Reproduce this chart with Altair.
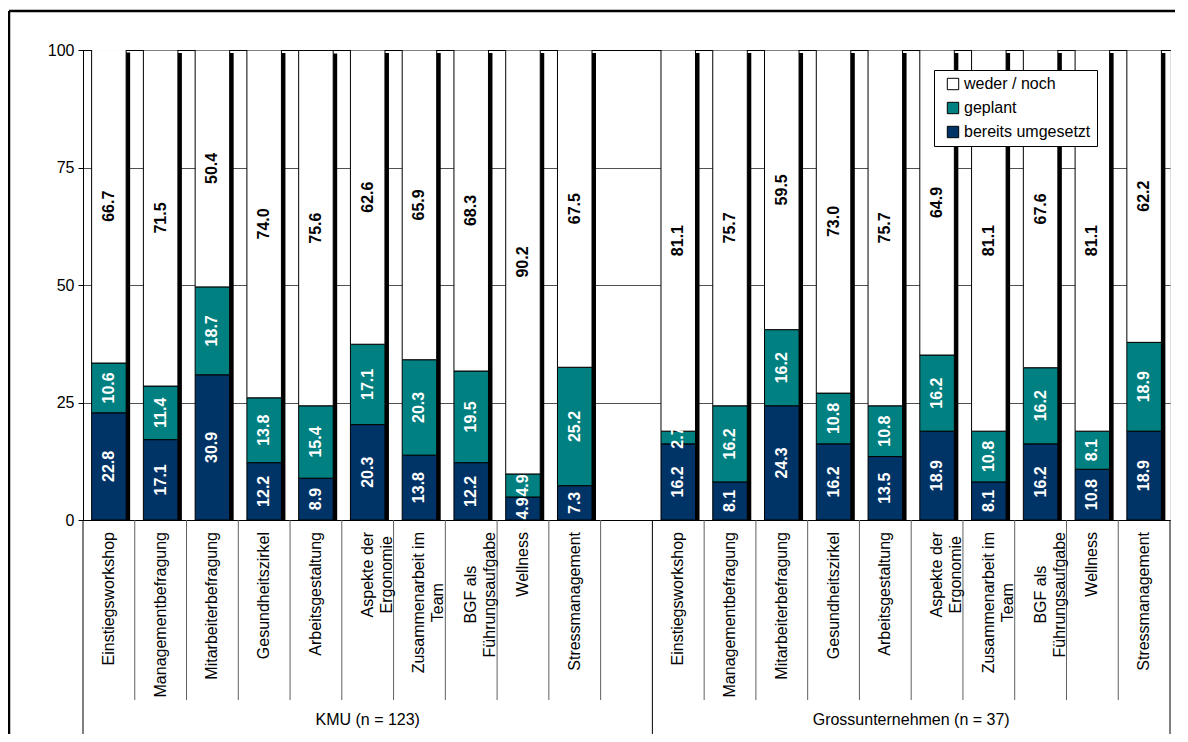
import altair as alt
import pandas as pd

FONT = "Liberation Sans"
FS = 16

categories = ["Einstiegsworkshop", "Managementbefragung", "Mitarbeiterbefragung",
              "Gesundheitszirkel", "Arbeitsgestaltung", "Aspekte der\nErgonomie",
              "Zusammenarbeit im\nTeam", "BGF als\nFührungsaufgabe", "Wellness",
              "Stressmanagement"]
groups = ["KMU (n = 123)", "Grossunternehmen (n = 37)"]
series = ["weder / noch", "geplant", "bereits umgesetzt"]
colors = ["#FFFFFF", "#008080", "#003366"]

kmu_umgesetzt = [22.8, 17.1, 30.9, 12.2, 8.9, 20.3, 13.8, 12.2, 4.9, 7.3]
kmu_geplant = [10.6, 11.4, 18.7, 13.8, 15.4, 17.1, 20.3, 19.5, 4.9, 25.2]
kmu_weder = [66.7, 71.5, 50.4, 74.0, 75.6, 62.6, 65.9, 68.3, 90.2, 67.5]
gu_umgesetzt = [16.2, 8.1, 24.3, 16.2, 13.5, 18.9, 8.1, 16.2, 10.8, 18.9]
gu_geplant = [2.7, 16.2, 16.2, 10.8, 10.8, 16.2, 10.8, 16.2, 8.1, 18.9]
gu_weder = [81.1, 75.7, 59.5, 73.0, 75.7, 64.9, 81.1, 67.6, 81.1, 62.2]

keys = [f"K{i}" for i in range(10)] + ["gap"] + [f"G{i}" for i in range(10)]

# approximate Arial / Liberation Sans advance widths (per 1000 em) for label layout
_W = {"A": 667, "B": 667, "E": 667, "F": 611, "G": 778, "T": 611, "Z": 611,
      "a": 556, "b": 556, "c": 500, "d": 556, "e": 556, "f": 278, "g": 556, "h": 556,
      "i": 222, "k": 500, "l": 222, "m": 833, "n": 556, "o": 556, "p": 556, "r": 333,
      "s": 500, "t": 278, "u": 556, "ü": 556, " ": 278}


def text_w(s):
    return sum(_W.get(c, 556) for c in s) * FS / 1000.0


rows, totals, single, multi = [], [], [], []
for g, (u, p, w) in [("K", (kmu_umgesetzt, kmu_geplant, kmu_weder)),
                     ("G", (gu_umgesetzt, gu_geplant, gu_weder))]:
    for i in range(10):
        key = f"{g}{i}"
        y0 = 0.0
        for s, v, o in [("bereits umgesetzt", u[i], 0), ("geplant", p[i], 1), ("weder / noch", w[i], 2)]:
            rows.append(dict(key=key, series=s, value=v, y0=y0, y1=y0 + v, mid=y0 + v / 2,
                             ord=o, tc="black" if s == "weder / noch" else "white"))
            y0 += v
        totals.append(dict(key=key, total=y0))
        txt = categories[i]
        if "\n" in txt:
            half = max(text_w(t) for t in txt.split("\n")) / 2
            multi.append(dict(pos=keys.index(key) + 0.5, text=txt, off=half))
        else:
            single.append(dict(pos=keys.index(key) + 0.5, text=txt))

df = pd.DataFrame(rows)
dft = pd.DataFrame(totals)
dfs = pd.DataFrame(single)
dfm = pd.DataFrame(multi)
dfsep = pd.DataFrame({"x": [x for x in range(1, 21) if x != 11]})
dfgrp = pd.DataFrame({"x": [0, 11, 21]})
dfglab = pd.DataFrame({"x": [5.5, 16.0], "text": groups})

H = 470
W = 1087
LT = H + 12

xband = alt.X("key:N", scale=alt.Scale(domain=keys, paddingInner=0.333, paddingOuter=0.1665),
              axis=alt.Axis(labels=False, ticks=False, domain=True, domainColor="black",
                            title=None, grid=False))
yaxis = alt.Axis(values=[0, 25, 50, 75, 100], title=None, grid=True, gridColor="#505050",
                 gridWidth=1, domainColor="black", tickColor="black", tickSize=5,
                 labelFont=FONT, labelFontSize=FS, labelColor="black", labelPadding=4)
yscale = alt.Scale(domain=[0, 100], nice=False)

shadow = alt.Chart(dft).mark_bar(color="black", xOffset=4, yOffset=3, clip=True).encode(
    x=xband, y=alt.Y("total:Q", scale=yscale, axis=yaxis))

bars = alt.Chart(df).mark_bar(stroke="black", strokeWidth=1, clip=True).encode(
    x=xband,
    y=alt.Y("y0:Q", scale=yscale, axis=yaxis),
    y2="y1:Q",
    color=alt.Color("series:N", scale=alt.Scale(domain=series, range=colors),
                    legend=alt.Legend(title=None, orient="none", legendX=851, legendY=20,
                                      fillColor="white", strokeColor="black", padding=6,
                                      symbolType="square", symbolSize=130,
                                      symbolStrokeColor="black", symbolStrokeWidth=1,
                                      symbolOffset=5, labelFont=FONT, labelFontSize=FS,
                                      labelOffset=3, rowPadding=8, labelColor="black")),
    order=alt.Order("ord:Q"))

vals = alt.Chart(df).mark_text(angle=270, font=FONT, fontSize=FS, fontWeight="bold",
                               align="center", baseline="middle").encode(
    x=xband,
    y=alt.Y("mid:Q", scale=yscale, axis=yaxis),
    text=alt.Text("value:Q", format=".1f"),
    color=alt.Color("tc:N", scale=None))

xq = alt.Scale(domain=[0, 21], nice=False, zero=False)

seps = alt.Chart(dfsep).mark_rule(color="#606060", strokeWidth=1).encode(
    x=alt.X("x:Q", scale=xq, axis=None), y=alt.value(H), y2=alt.value(H + 180))
grps = alt.Chart(dfgrp).mark_rule(color="black", strokeWidth=1).encode(
    x=alt.X("x:Q", scale=xq, axis=None), y=alt.value(H), y2=alt.value(H + 215))
catlab1 = alt.Chart(dfs).mark_text(angle=270, align="right", baseline="middle",
                                   font=FONT, fontSize=FS, color="black").encode(
    x=alt.X("pos:Q", scale=xq, axis=None), y=alt.value(LT), text="text:N")
catlab2 = alt.Chart(dfm).transform_calculate(yy=f"{LT} + datum.off").mark_text(
    angle=270, align="center", baseline="middle", lineBreak="\n", lineHeight=19,
    font=FONT, fontSize=FS, color="black").encode(
    x=alt.X("pos:Q", scale=xq, axis=None),
    y=alt.Y("yy:Q", scale=None), text="text:N")
grplab = alt.Chart(dfglab).mark_text(align="center", baseline="middle", font=FONT,
                                     fontSize=FS, color="black").encode(
    x=alt.X("x:Q", scale=xq, axis=None), y=alt.value(H + 200), text="text:N")

border_df = pd.DataFrame({"a": [0]})
bl = alt.Chart(border_df).mark_rule(color="black", strokeWidth=2.5).encode(
    x=alt.value(-74), y=alt.value(-39), y2=alt.value(H + 300))
bt = alt.Chart(border_df).mark_rule(color="black", strokeWidth=2.5).encode(
    x=alt.value(-74), x2=alt.value(W + 200), y=alt.value(-39))

chart = alt.layer(shadow, bars, vals, seps, grps, catlab1, catlab2, grplab, bl, bt).resolve_scale(
    x="independent").properties(
    width=W, height=H,
    autosize=alt.AutoSizeParams(type="none"),
    padding={"left": 75, "top": 42, "right": 5, "bottom": 214},
).configure_view(fill="#C0C0C0", stroke=None).configure(background="white")

chart.save("out.html", embed_options={"renderer": "svg", "actions": False})
